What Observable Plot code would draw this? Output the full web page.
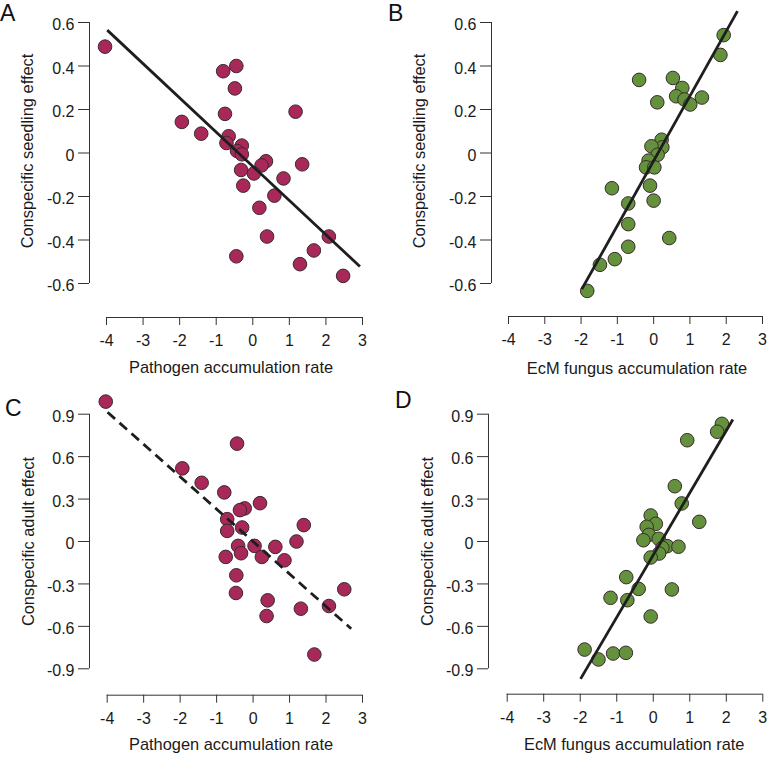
<!DOCTYPE html>
<html><head><meta charset="utf-8">
<script src="https://cdn.jsdelivr.net/npm/d3@7"></script>
<script src="https://cdn.jsdelivr.net/npm/@observablehq/plot@0.6"></script>
<style>
body{margin:0;background:#fff;}
#fig{position:relative;width:768px;height:759px;font-family:"Liberation Sans",Arial,sans-serif;overflow:hidden;}
.panel{position:absolute;}
.letter{position:absolute;font-size:23px;line-height:1;color:#111;}
</style></head><body><div id="fig"></div>
<script>
// tick values
const xTicks = [-4, -3, -2, -1, 0, 1, 2, 3];
const yTicksSeedling = [-0.6, -0.4, -0.2, 0, 0.2, 0.4, 0.6];
const yTicksAdult = [-0.9, -0.6, -0.3, 0, 0.3, 0.6, 0.9];

// Panel A: pathogen vs seedling effect
const aX = [-4.04,-0.81,-0.45,-0.49,-0.76,1.17,-1.94,-1.41,-0.66,-0.72,-0.30,-0.43,-0.30,0.36,0.24,1.35,-0.32,0.03,0.84,-0.26,0.59,0.18,0.39,2.08,-0.45,1.67,1.29,2.47];
const aY = [0.489,0.376,0.40,0.297,0.18,0.19,0.143,0.089,0.077,0.046,0.034,0.009,-0.006,-0.038,-0.057,-0.052,-0.078,-0.094,-0.117,-0.150,-0.196,-0.252,-0.384,-0.384,-0.475,-0.448,-0.511,-0.565];
const aFitX = [-3.98, 2.93];
const aFitY = [0.565, -0.522];

// Panel B: EcM fungus vs seedling effect
const bX = [1.93,1.84,-0.40,0.53,0.79,0.62,0.85,1.33,1.01,0.10,0.22,0.24,-0.06,0.11,-0.14,-0.21,0.02,-0.10,-1.15,-0.70,0.00,-0.70,-0.70,0.43,-1.07,-1.48,-1.83];
const bY = [0.542,0.451,0.336,0.345,0.299,0.261,0.246,0.255,0.223,0.233,0.061,0.026,0.031,-0.008,-0.035,-0.066,-0.066,-0.150,-0.162,-0.232,-0.219,-0.327,-0.431,-0.391,-0.488,-0.514,-0.634];
const bFitX = [-1.98, 2.31];
const bFitY = [-0.626, 0.652];

// Panel C: pathogen vs adult effect
const cX = [-4.04,-0.44,-1.94,-1.41,-0.79,0.19,-0.23,-0.36,-0.71,1.39,-0.30,-0.71,1.19,-0.41,0.04,0.61,-0.33,-0.75,0.24,0.86,-0.46,2.50,-0.47,0.40,2.08,1.31,0.37,1.68];
const cY = [0.989,0.692,0.517,0.415,0.347,0.271,0.234,0.222,0.158,0.116,0.099,0.075,0.0,-0.031,-0.031,-0.038,-0.083,-0.109,-0.109,-0.133,-0.239,-0.338,-0.364,-0.416,-0.456,-0.475,-0.527,-0.799];
const cFitX = [-3.99, 2.69];
const cFitY = [0.914, -0.617];

// Panel D: EcM fungus vs adult effect
const dX = [1.88,1.75,0.93,0.59,0.78,1.26,-0.07,0.07,-0.18,-0.12,-0.27,0.15,0.38,0.69,0.25,0.16,-0.07,-0.74,-0.40,0.51,-1.17,-0.71,-0.07,-1.88,-1.50,-1.10,-0.75];
const dY = [0.832,0.776,0.716,0.391,0.269,0.139,0.184,0.125,0.104,0.047,0.009,0.019,-0.033,-0.037,-0.045,-0.085,-0.113,-0.252,-0.335,-0.339,-0.398,-0.415,-0.530,-0.764,-0.834,-0.792,-0.787];
const dFitX = [-1.99, 2.18];
const dFitY = [-0.971, 0.863];

const pathogenLabel = "Pathogen accumulation rate";
const ecmLabel = "EcM fungus accumulation rate";
const seedlingLabel = "Conspecific seedling effect";
const adultLabel = "Conspecific adult effect";
const maroon = "#a8285a";
const green = "#64913c";

const FONT = "'Liberation Sans', Arial, sans-serif";
const fmt = d => String(d);

function panel(o) {
  const pts = o.xs.map((x, i) => ({x, y: o.ys[i]}));
  const fit = o.fitX.map((x, i) => ({x, y: o.fitY[i]}));
  const xLo = xTicks[0], xHi = xTicks[xTicks.length - 1];
  const yLo = o.yTicks[0], yHi = o.yTicks[o.yTicks.length - 1];
  const xMid = (xLo + xHi) / 2, yMid = (yLo + yHi) / 2;
  const chart = Plot.plot({
    width: 384, height: o.height,
    marginLeft: o.marginLeft, marginRight: o.marginRight,
    marginTop: o.marginTop, marginBottom: o.marginBottom,
    insetLeft: o.insetLeft, insetBottom: o.insetBottom, insetRight: 0, insetTop: 0,
    style: {fontFamily: FONT, fontSize: "16px", color: "#1a1a1a", background: "transparent", overflow: "visible"},
    x: {domain: [xLo, xHi]},
    y: {domain: [yLo, yHi]},
    marks: [
      Plot.ruleY([yLo], {x1: () => xLo, x2: () => xHi, dy: o.insetBottom, stroke: "#333", strokeWidth: 1}),
      Plot.ruleX([xLo], {y1: () => yLo, y2: () => yHi, dx: -o.insetLeft, stroke: "#333", strokeWidth: 1}),
      Plot.axisX(xTicks, {tickSize: 8, tickPadding: 9, tickFormat: fmt, label: null, fontSize: 16, color: "#1a1a1a", stroke: "#333"}),
      Plot.axisY(o.yTicks, {tickSize: 11, tickFormat: () => "", label: null, stroke: "#333"}),
      Plot.text(o.yTicks, {y: d => d, text: fmt, frameAnchor: "left", textAnchor: "end", lineAnchor: "middle", dx: -15, dy: 2.5, fontSize: 16, fill: "#1a1a1a"}),
      Plot.dot(pts, {x: "x", y: "y", r: 6.8, fill: o.fill, stroke: "#3a2a2e", strokeWidth: 1}),
      Plot.line(fit, {x: "x", y: "y", stroke: "#1e1e1e", strokeWidth: 2.8, strokeLinecap: "butt", strokeDasharray: o.dashed ? "10,6" : null}),
      Plot.text([o.xLabel], {x: () => xMid, text: d => d, frameAnchor: "bottom", textAnchor: "middle", lineAnchor: "middle", dy: o.xLabelDy, dx: o.xLabelDx, fontSize: 16.4, fill: "#1a1a1a"}),
      Plot.text([o.yLabel], {y: () => yMid, text: d => d, frameAnchor: "left", textAnchor: "middle", lineAnchor: "middle", rotate: -90, dx: o.yLabelDx, dy: o.yLabelDy, fontSize: 16.4, fill: "#1a1a1a"})
    ]
  });
  const wrap = document.createElement("div");
  wrap.className = "panel";
  wrap.style.left = o.left + "px";
  wrap.style.top = o.top + "px";
  wrap.appendChild(chart);
  document.getElementById("fig").appendChild(wrap);
  const L = document.createElement("div");
  L.className = "letter";
  L.textContent = o.letter;
  L.style.left = o.letterPos[0] + "px";
  L.style.top = o.letterPos[1] + "px";
  document.getElementById("fig").appendChild(L);
}

panel({letter: "A", letterPos: [0, 2], xs: aX, ys: aY, fitX: aFitX, fitY: aFitY, dashed: false, fill: maroon,
  yTicks: yTicksSeedling, xLabel: pathogenLabel, yLabel: seedlingLabel,
  left: 0, top: 0, height: 379, marginLeft: 89, insetLeft: 17, marginRight: 22, marginTop: 22, marginBottom: 62, insetBottom: 34,
  xLabelDy: 50, xLabelDx: -3.5, yLabelDx: -61.5, yLabelDy: -2});
panel({letter: "B", letterPos: [388, 2], xs: bX, ys: bY, fitX: bFitX, fitY: bFitY, dashed: false, fill: green,
  yTicks: yTicksSeedling, xLabel: ecmLabel, yLabel: seedlingLabel,
  left: 384, top: 0, height: 379, marginLeft: 107, insetLeft: 17, marginRight: 6, marginTop: 22, marginBottom: 63, insetBottom: 33,
  xLabelDy: 51.8, xLabelDx: 1.5, yLabelDx: -72, yLabelDy: -2});
panel({letter: "C", letterPos: [5, 396.5], xs: cX, ys: cY, fitX: cFitX, fitY: cFitY, dashed: true, fill: maroon,
  yTicks: yTicksAdult, xLabel: pathogenLabel, yLabel: adultLabel,
  left: 0, top: 379, height: 380, marginLeft: 89, insetLeft: 17.7, marginRight: 22, marginTop: 34.7, marginBottom: 64.3, insetBottom: 26.4,
  xLabelDy: 50, xLabelDx: -3.8, yLabelDx: -60.5, yLabelDy: 0});
panel({letter: "D", letterPos: [395, 389], xs: dX, ys: dY, fitX: dFitX, fitY: dFitY, dashed: false, fill: green,
  yTicks: yTicksAdult, xLabel: ecmLabel, yLabel: adultLabel,
  left: 384, top: 379, height: 380, marginLeft: 104, insetLeft: 18.7, marginRight: 5.7, marginTop: 34.7, marginBottom: 65.3, insetBottom: 25.4,
  xLabelDy: 50.8, xLabelDx: -0.8, yLabelDx: -61, yLabelDy: 0});
</script>
</body></html>
